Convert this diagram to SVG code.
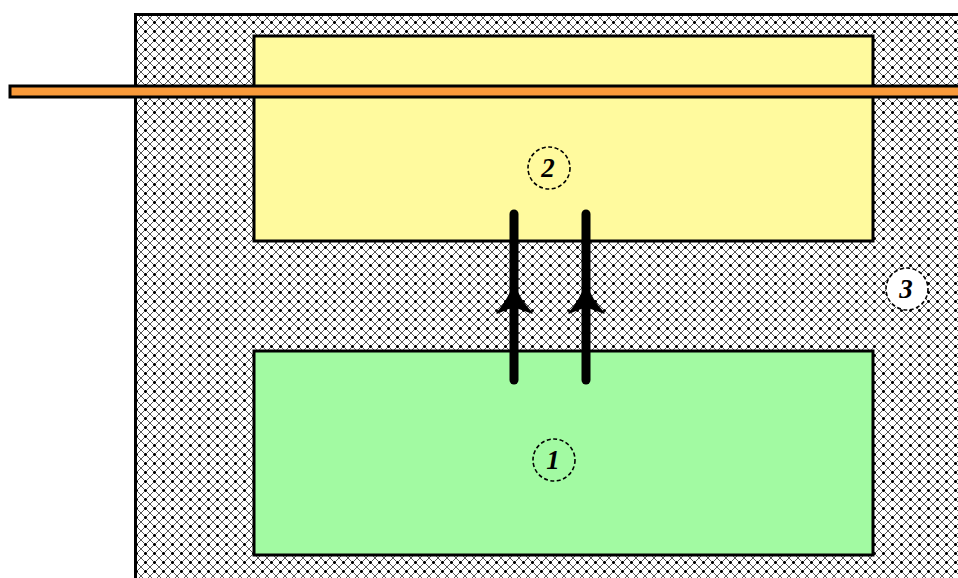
<svg xmlns="http://www.w3.org/2000/svg" width="958" height="578" viewBox="0 0 958 578">
<defs>
<pattern id="hatch" patternUnits="userSpaceOnUse" x="141" y="0" width="9" height="9">
<rect width="9" height="9" fill="#ffffff"/>
<path shape-rendering="crispEdges" fill="#555" d="M0,0h1v1h-1z M1,1h1v1h-1z M2,2h1v1h-1z M3,3h1v1h-1z M5,5h1v1h-1z M6,6h1v1h-1z M7,7h1v1h-1z M8,8h1v1h-1z M8,0h1v1h-1z M7,1h1v1h-1z M6,2h1v1h-1z M5,3h1v1h-1z M3,5h1v1h-1z M2,6h1v1h-1z M1,7h1v1h-1z M0,8h1v1h-1z"/>
<path shape-rendering="crispEdges" fill="#000" d="M4,4h1v1h-1z M4,3h1v1h-1z M3,4h1v1h-1z M5,4h1v1h-1z M4,5h1v1h-1z"/>
</pattern>
<style>
.box{stroke:#000;stroke-width:3}
.lbl{fill:none;stroke:#000;stroke-width:1.6;stroke-dasharray:4 2.5}
.num{font-family:"Liberation Serif",serif;font-style:italic;font-weight:bold;font-size:27px;fill:#000;text-anchor:middle}
.flow{stroke:#000;stroke-width:9;stroke-linecap:round;fill:none}
</style>
</defs>
<rect width="958" height="578" fill="#ffffff"/>
<g id="casing">
<rect class="box" x="135.5" y="14.5" width="840" height="600" fill="url(#hatch)"/>
</g>
<g id="box2">
<rect class="box" x="254" y="36" width="619" height="205" fill="#FFFA9E"/>
</g>
<g id="box1">
<rect class="box" x="254" y="351" width="619" height="204" fill="#A2FAA2"/>
</g>
<g id="pipe">
<rect x="10" y="86" width="960" height="11" fill="#F99A3A" stroke="#000" stroke-width="3"/>
</g>
<g id="connectors">
<line class="flow" x1="514" y1="214" x2="514" y2="380"/>
<line class="flow" x1="586" y1="214" x2="586" y2="380"/>
<path d="M514,284 C510,296 505,304 497,313 C504,310 510,308 514,306 C518,308 524,310 532,313 C523,304 518,296 514,284 Z" fill="#000" stroke="#000" stroke-width="1.5" stroke-linejoin="round"/>
<path d="M586,284 C582,296 577,304 569,313 C576,310 582,308 586,306 C590,308 596,310 604,313 C595,304 590,296 586,284 Z" fill="#000" stroke="#000" stroke-width="1.5" stroke-linejoin="round"/>
</g>
<g id="label1">
<circle class="lbl" cx="554" cy="460" r="21"/>
<text class="num" x="553" y="469">1</text>
</g>
<g id="label2">
<circle class="lbl" cx="549" cy="168" r="21"/>
<text class="num" x="548" y="177">2</text>
</g>
<g id="label3">
<circle class="lbl" cx="907" cy="289" r="21" style="fill:#ffffff"/>
<text class="num" x="906" y="298">3</text>
</g>
</svg>
